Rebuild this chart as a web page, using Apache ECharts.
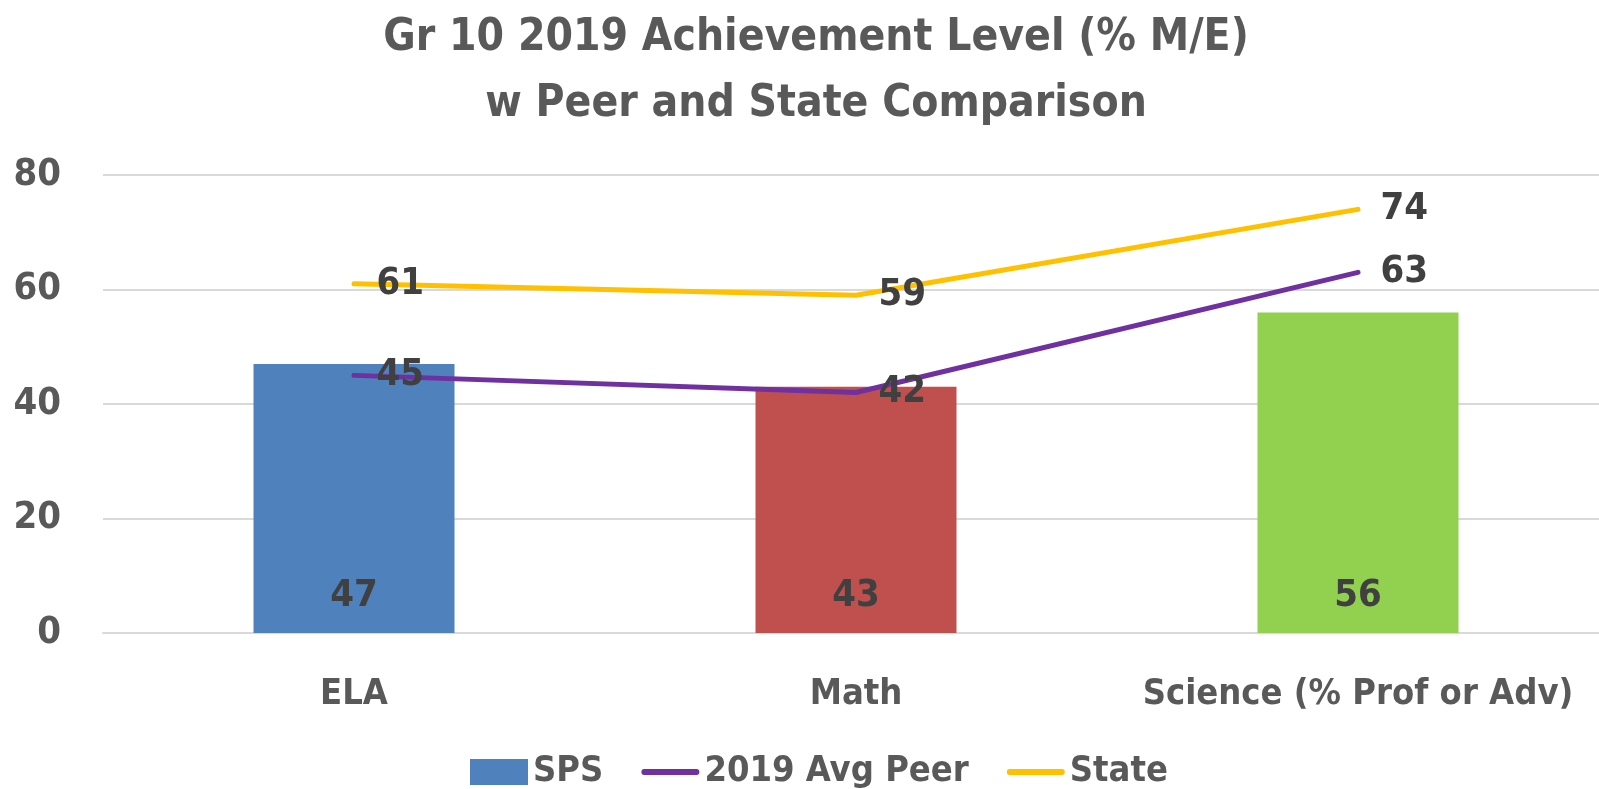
<!DOCTYPE html>
<html>
<head>
<meta charset="utf-8">
<script src="https://cdn.jsdelivr.net/npm/echarts@6/dist/echarts.min.js"></script>
<style>
  html, body { margin: 0; padding: 0; background: #fff; }
  #main { width: 1599px; height: 789px; }
</style>
</head>
<body>
<div id="main"></div>
<script>
const categories = ["ELA", "Math", "Science (% Prof or Adv)"];
const spsValues = [47, 43, 56];
const peerValues = [45, 42, 63];
const stateValues = [61, 59, 74];
const barColors = ["#4F81BD", "#C0504D", "#92D050"];
const yTicks = { min: 0, max: 80, interval: 20 };

const FONT = "'DejaVu Sans Condensed', 'DejaVu Sans', sans-serif";
const GREY = "#595959";
const DARK = "#404040";
const PURPLE = "#7030A0";
const GOLD = "#FFC000";

// short thick line with round ends, padded to the full legend box height
const LINE_ICON = "path://M0,0L0.01,0M3,10A3,3 0 0 0 3,16H57A3,3 0 0 0 57,10ZM0,26L0.01,26";

const chart = echarts.init(document.getElementById("main"), null, { renderer: "canvas" });

// labels for the lines, drawn by an invisible scatter so the line legend stays a plain line
function labelSeries(name, values) {
  return {
    name: name + " label",
    type: "scatter",
    data: values,
    symbolSize: 1,
    itemStyle: { color: "rgba(0,0,0,0)", opacity: 1 },
    silent: true,
    z: 4,
    label: {
      show: true,
      position: "right",
      distance: 22,
      color: DARK,
      fontFamily: FONT,
      fontWeight: "bold",
      fontSize: 38
    }
  };
}

chart.setOption({
  animation: false,
  backgroundColor: "#fff",
  title: {
    text: "Gr 10 2019 Achievement Level (% M/E)\nw Peer and State Comparison",
    left: 811,
    textAlign: "center",
    top: 1,
    textStyle: {
      color: GREY,
      fontFamily: FONT,
      fontWeight: "bold",
      fontSize: 44,
      lineHeight: 66
    }
  },
  legend: {
    bottom: -6,
    left: 465,
    itemWidth: 58,
    itemHeight: 26,
    itemGap: 38,
    textStyle: { color: GREY, fontFamily: FONT, fontWeight: "bold", fontSize: 36 },
    data: [
      { name: "SPS", icon: "rect", itemStyle: { color: barColors[0] } },
      { name: "2019 Avg Peer", icon: LINE_ICON, itemStyle: { color: PURPLE } },
      { name: "State", icon: LINE_ICON, itemStyle: { color: GOLD } }
    ]
  },
  grid: { left: 103, top: 175, width: 1506, height: 458, outerBoundsMode: "none" },
  xAxis: {
    type: "category",
    data: categories,
    axisLine: { lineStyle: { color: "#D9D9D9", width: 2 } },
    axisTick: { show: false },
    axisLabel: {
      interval: 0,
      color: GREY,
      fontFamily: FONT,
      fontWeight: "bold",
      fontSize: 36,
      margin: 44
    }
  },
  yAxis: {
    type: "value",
    min: yTicks.min,
    max: yTicks.max,
    interval: yTicks.interval,
    axisLine: { show: false },
    axisTick: { show: false },
    splitLine: { lineStyle: { color: "#D9D9D9", width: 2 } },
    axisLabel: {
      color: GREY,
      fontFamily: FONT,
      fontWeight: "bold",
      fontSize: 38,
      margin: 42
    }
  },
  series: [
    {
      name: "SPS",
      type: "bar",
      barWidth: 201,
      data: spsValues.map((v, i) => ({ value: v, itemStyle: { color: barColors[i] } })),
      itemStyle: { color: barColors[0] },
      label: {
        show: true,
        position: "insideBottom",
        distance: 18,
        color: DARK,
        fontFamily: FONT,
        fontWeight: "bold",
        fontSize: 38
      }
    },
    {
      name: "2019 Avg Peer",
      type: "line",
      data: peerValues,
      symbol: "none",
      color: PURPLE,
      lineStyle: { color: PURPLE, width: 5, cap: "round", join: "round" },
      z: 3
    },
    {
      name: "State",
      type: "line",
      data: stateValues,
      symbol: "none",
      color: GOLD,
      lineStyle: { color: GOLD, width: 5, cap: "round", join: "round" },
      z: 3
    },
    labelSeries("2019 Avg Peer", peerValues),
    labelSeries("State", stateValues)
  ]
});
</script>
</body>
</html>
